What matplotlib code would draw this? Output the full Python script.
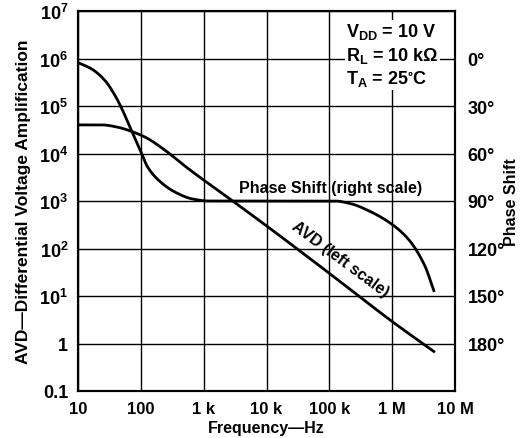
import matplotlib
matplotlib.use("Agg")
import matplotlib.pyplot as plt
import numpy as np

# ---- data ----
avd_freq = [10, 24, 44, 72, 118, 247, 515, 2.9e3, 1e4, 1e5, 1e6, 4.6e6]
avd_vals = [4.0e4, 4.0e4, 3.55e4, 2.9e4, 2.2e4, 1.15e4, 5.3e3, 1.0e3, 3.0e2, 3.0e1, 2.9, 0.68]

phase_freq = [10, 16.5, 27, 39, 50, 64, 81, 98, 125, 193, 355, 660, 1.2e3, 1e4,
              1.22e5, 2.24e5, 4.15e5, 9.75e5, 1.8e6, 3.3e6, 4.6e6]
phase_deg = [2.6, 6.6, 14, 23.5, 31.8, 41.4, 50.8, 58, 67.8, 77, 84.5, 88.7, 90, 90,
             90, 91.8, 96, 104.5, 114, 130.8, 146.6]

x_ticks = [10, 100, 1e3, 1e4, 1e5, 1e6, 1e7]
x_labels = ["10", "100", "1 k", "10 k", "100 k", "1 M", "10 M"]
y_ticks = [1e7, 1e6, 1e5, 1e4, 1e3, 1e2, 1e1, 1, 0.1]
y_labels = [r"$\mathregular{10^7}$", r"$\mathregular{10^6}$", r"$\mathregular{10^5}$",
            r"$\mathregular{10^4}$", r"$\mathregular{10^3}$", r"$\mathregular{10^2}$",
            r"$\mathregular{10^1}$", "1", "0.1"]
phase_ticks = [0, 30, 60, 90, 120, 150, 180]
phase_labels = [f"{p}°" for p in phase_ticks]

plt.rcParams['font.family'] = ['Liberation Sans', 'DejaVu Sans']
plt.rcParams['font.weight'] = 'bold'
plt.rcParams['mathtext.default'] = 'regular'


def pchip(x, y, xn):
    x = np.asarray(x, float); y = np.asarray(y, float)
    h = np.diff(x); d = np.diff(y) / h
    m = np.zeros_like(y)
    for k in range(1, len(x) - 1):
        if d[k-1] * d[k] <= 0:
            m[k] = 0
        else:
            w1 = 2*h[k] + h[k-1]; w2 = h[k] + 2*h[k-1]
            m[k] = (w1 + w2) / (w1/d[k-1] + w2/d[k])
    m[0] = d[0]; m[-1] = d[-1]
    idx = np.clip(np.searchsorted(x, xn) - 1, 0, len(x) - 2)
    t = (xn - x[idx]) / h[idx]
    h00 = 2*t**3 - 3*t**2 + 1; h10 = t**3 - 2*t**2 + t
    h01 = -2*t**3 + 3*t**2; h11 = t**3 - t**2
    return h00*y[idx] + h10*h[idx]*m[idx] + h01*y[idx+1] + h11*h[idx]*m[idx+1]


fig = plt.figure(figsize=(5.25, 4.39), dpi=100)
ax = fig.add_axes([78/525, 1-392/439, (455-78)/525, (392-12)/439])
ax.set_xscale('log')
ax.set_yscale('log')
ax.set_xlim(10, 1e7)
ax.set_ylim(0.1, 1e7)

lx = np.log10(avd_freq)
t = np.linspace(lx[0], lx[-1], 500)
ax.plot(10**t, 10**pchip(lx, np.log10(avd_vals), t), color='black', lw=2.0, zorder=3)

ax.set_xticks(x_ticks)
ax.set_xticklabels(x_labels, fontsize=12, fontweight='bold')
ax.set_yticks(y_ticks)
ax.set_yticklabels(y_labels, fontsize=13, fontweight='bold')
ax.minorticks_off()
ax.tick_params(length=0, pad=7)
ax.grid(True, which='major', color='black', lw=1.0)
for s in ax.spines.values():
    s.set_linewidth(1.5)

ax.set_xlabel("Frequency—Hz", fontsize=11.5, fontweight='bold', labelpad=3)
ax.set_ylabel("AVD—Differential Voltage Amplification", fontsize=12.5, fontweight='bold', labelpad=6)

ax2 = ax.twinx()
ax2.set_ylim(210, -30)
px = np.log10(phase_freq)
t2 = np.linspace(px[0], px[-1], 500)
ax2.plot(10**t2, pchip(px, phase_deg, t2), color='black', lw=2.0, zorder=3)
ax2.set_yticks(phase_ticks)
ax2.set_yticklabels(phase_labels, fontsize=13, fontweight='bold')
ax2.tick_params(length=0, pad=9)
ax2.set_ylabel("Phase Shift", fontsize=11.5, fontweight='bold')
ax2.yaxis.set_label_coords((504 - 78) / 377, 0.5)
for s in ax2.spines.values():
    s.set_linewidth(1.5)

ax.text(3.6e3, 1.55e3, "Phase Shift (right scale)", fontsize=11.5, fontweight='bold',
        ha='left', va='baseline', zorder=4)
ax.text(1.5e5, 60, "AVD (left scale)", fontsize=11.5, fontweight='bold',
        rotation=-36.5, rotation_mode='anchor', ha='center', va='center', zorder=4)

box_txt = ("$\\mathregular{V_{DD}}$ = 10 V\n"
           "$\\mathregular{R_L}$ = 10 k$\\Omega$\n"
           "$\\mathregular{T_A}$ = 25$\\mathregular{^{\\circ}}$C")
ax.text(1.86e5, 1.2e6, box_txt, fontsize=13, fontweight='bold', ha='left', va='center',
        linespacing=1.25, zorder=4,
        bbox=dict(facecolor='white', edgecolor='none', pad=1))

fig.savefig("out.png", dpi=100)
